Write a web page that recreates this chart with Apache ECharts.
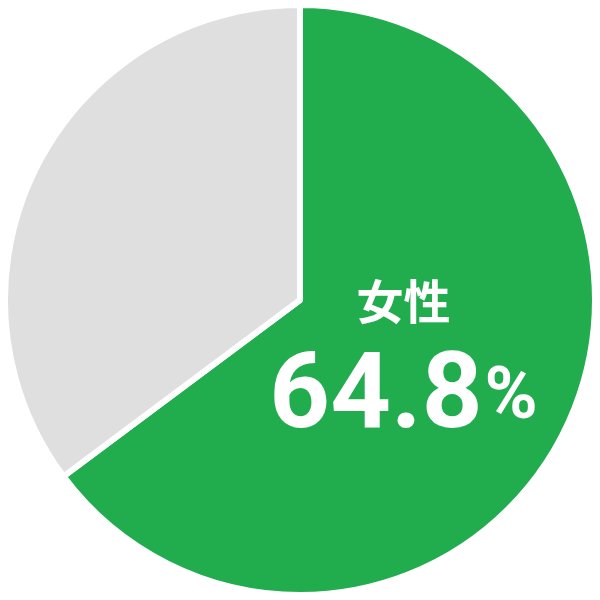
<!DOCTYPE html>
<html>
<head>
<meta charset="utf-8">
<script src="https://cdn.jsdelivr.net/npm/echarts@6/dist/echarts.min.js"></script>
<style>
html,body{margin:0;padding:0;background:#fff;}
#main{width:600px;height:600px;}
</style>
</head>
<body>
<div id="main"></div>
<script>
var categories = ['女性', '男性'];
var values = [64.8, 35.2];
var colors = ['#21AC4E', '#DFDFDF'];

var chart = echarts.init(document.getElementById('main'), null, {renderer: 'canvas'});
var data = categories.map(function (name, i) {
  return {
    name: name,
    value: values[i],
    itemStyle: {color: colors[i]},
    label: {show: i === 0}
  };
});
chart.setOption({
  animation: false,
  series: [{
    type: 'pie',
    center: [300, 300],
    radius: [0, 295],
    startAngle: 90,
    clockwise: true,
    silent: true,
    itemStyle: {borderColor: '#ffffff', borderWidth: 6},
    label: {
      position: 'inside',
      formatter: function (p) {
        return '{a|' + p.name + '}\n{b|' + p.value + '}{c|%}';
      },
      rich: {
        a: {fontFamily: '"Noto Sans CJK JP"', fontWeight: 'bold', fontSize: 47, color: '#fff', lineHeight: 56, align: 'center'},
        b: {fontFamily: 'Roboto', fontWeight: 'bold', fontSize: 106, color: '#fff', lineHeight: 142},
        c: {fontFamily: 'Roboto', fontWeight: 'bold', fontSize: 72, color: '#fff', lineHeight: 142, padding: [0, 0, 0, 2]}
      }
    },
    labelLine: {show: false},
    labelLayout: {dx: -31, dy: 5},
    data: data
  }]
});
</script>
</body>
</html>
